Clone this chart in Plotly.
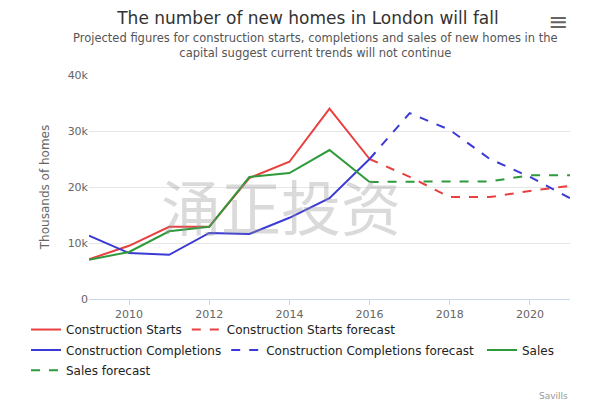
import plotly.graph_objects as go

years = list(range(2009, 2017))
starts = [7.1, 9.5, 12.9, 12.9, 21.6, 24.5, 34.0, 25.0]
completions = [11.3, 8.2, 7.9, 11.8, 11.6, 14.5, 18.0, 25.0]
sales = [7.0, 8.4, 12.1, 12.9, 21.8, 22.5, 26.6, 20.9]

f_years = list(range(2016, 2022))
starts_fc = [25.0, 21.8, 18.2, 18.2, 19.3, 20.2]
completions_fc = [25.0, 33.2, 30.2, 25.0, 21.8, 18.0]
sales_fc = [20.9, 21.0, 21.0, 21.0, 22.1, 22.1]

RED, BLUE, GREEN = "#e8403f", "#3a3ad6", "#2e9a3a"

fig = go.Figure()
series = [
    ("Construction Starts", years, starts, RED, "solid", "legend"),
    ("Construction Starts forecast", f_years, starts_fc, RED, "dash", "legend"),
    ("Construction Completions", years, completions, BLUE, "solid", "legend2"),
    ("Construction Completions forecast", f_years, completions_fc, BLUE, "dash", "legend2"),
    ("Sales", years, sales, GREEN, "solid", "legend4"),
    ("Sales forecast", f_years, sales_fc, GREEN, "dash", "legend3"),
]
for name, x, y, color, dash, leg in series:
    fig.add_trace(go.Scatter(
        x=x, y=[v * 1000 for v in y], name=name, mode="lines", legend=leg,
        line=dict(color=color, width=2, dash=dash),
    ))


def legend_row(y, x=0.03):
    return dict(
        orientation="h", xref="container", yref="container",
        x=x, xanchor="left", y=y, yanchor="middle",
        font=dict(size=12, color="#222", family="DejaVu Sans"),
        itemwidth=30, bgcolor="rgba(0,0,0,0)",
    )


fig.update_layout(
    width=600, height=407,
    paper_bgcolor="white", plot_bgcolor="white",
    font=dict(family="DejaVu Sans", size=12, color="#333"),
    margin=dict(l=81, r=38, t=67, b=116, autoexpand=False),
    title=dict(
        text="The number of new homes in London will fall",
        x=0.5, xanchor="center", y=0.99, yanchor="top",
        font=dict(size=17, color="#333"),
    ),
    xaxis=dict(
        range=[2009, 2021], tickvals=[2010, 2012, 2014, 2016, 2018, 2020],
        showgrid=False, showline=True, linecolor="#ccd6eb", ticks="outside",
        tickcolor="#ccd6eb", tickfont=dict(size=11, color="#666"),
    ),
    yaxis=dict(
        range=[0, 40000], tickvals=[0, 10000, 20000, 30000, 40000],
        ticktext=["0", "10k", "20k", "30k", "40k"],
        gridcolor="#e6e6e6", zeroline=False,
        tickfont=dict(size=11, color="#666"),
        title=dict(text="Thousands of homes", font=dict(size=12, color="#666")),
    ),
    legend=legend_row(0.21),
    legend2=legend_row(0.16),
    legend4=legend_row(0.16, x=0.79),
    legend3=legend_row(0.11),
    annotations=[
        dict(text="Projected figures for construction starts, completions and sales of new homes in the<br>capital suggest current trends will not continue",
             xref="paper", yref="paper", x=0.47, y=1.06, xanchor="center", yanchor="bottom",
             showarrow=False, font=dict(size=11.5, color="#555")),
        dict(text="涌正投资", xref="paper", yref="paper", x=0.4, y=0.42,
             showarrow=False, font=dict(size=60, color="rgba(150,150,150,0.35)",
                                        family="Noto Sans CJK SC")),
        dict(text="Savills", xref="paper", yref="paper", x=1.0, y=-0.40,
             xanchor="right", yanchor="top", showarrow=False,
             font=dict(size=9, color="#999")),
        dict(text="≡", xref="paper", yref="paper", x=1.0, y=1.31,
             xanchor="right", yanchor="top", showarrow=False,
             font=dict(size=24, color="#666")),
    ],
)

fig.write_html("out.html")
